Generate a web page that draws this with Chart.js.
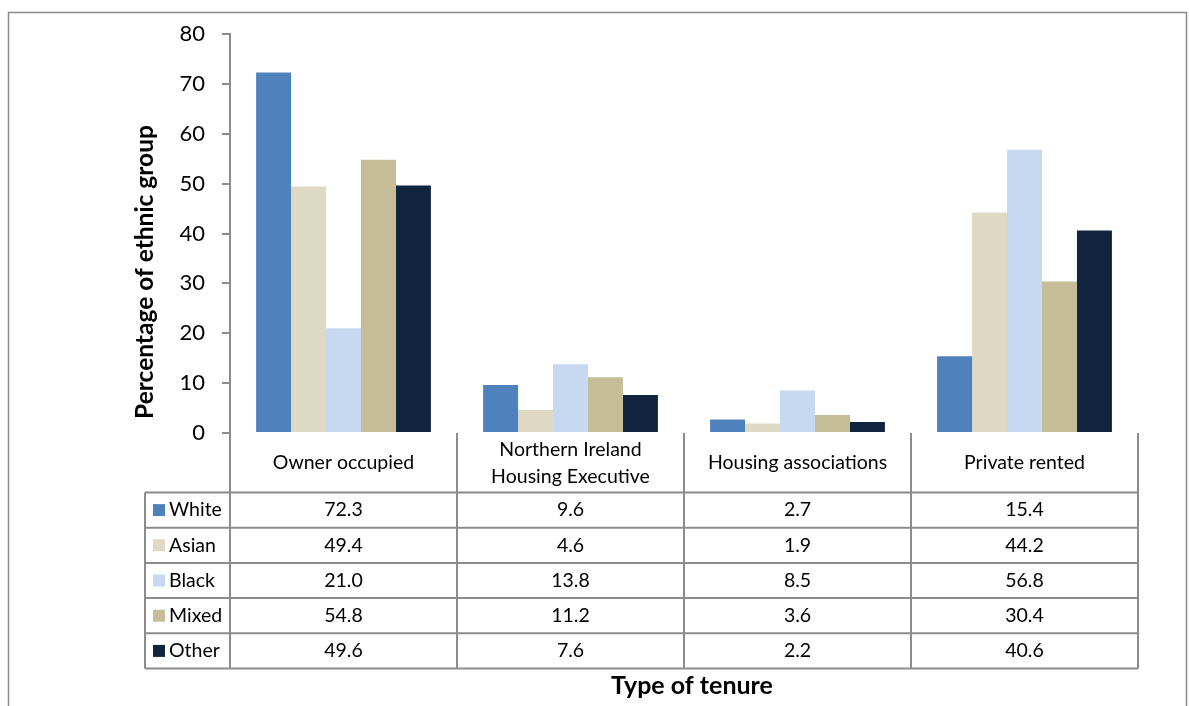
<!DOCTYPE html>
<html>
<head>
<meta charset="utf-8">
<script src="https://cdn.jsdelivr.net/npm/chart.js@4"></script>
<style>
  html, body { margin: 0; padding: 0; background: #fff; }
  #wrap { width: 1189px; height: 706px; }
</style>
</head>
<body>
<div id="wrap"><canvas id="tenureChart" width="1189" height="706"></canvas></div>
<script>
'use strict';

// --- DATA ---
const categories = [['Owner occupied'], ['Northern Ireland', 'Housing Executive'], ['Housing associations'], ['Private rented']];
const groups = ['White', 'Asian', 'Black', 'Mixed', 'Other'];
const white = [72.3, 9.6, 2.7, 15.4];
const asian = [49.4, 4.6, 1.9, 44.2];
const black = [21.0, 13.8, 8.5, 56.8];
const mixed = [54.8, 11.2, 3.6, 30.4];
const other = [49.6, 7.6, 2.2, 40.6];
const yTicks = [0, 10, 20, 30, 40, 50, 60, 70, 80];

const colours = ['#4f81bd', '#ddd9c3', '#c6d9f0', '#c4bd97', '#10243e'];
const seriesValues = [white, asian, black, mixed, other];

const gridColour = '#8c8c8c';
const fontFamily = 'Lato, "Open Sans", sans-serif';

Chart.defaults.font.family = fontFamily;
Chart.defaults.color = '#000';

// table under the plot, uses the x scale to line up the columns
const dataTablePlugin = {
    id: 'dataTable',
    beforeDraw(chart) {
        const ctx = chart.ctx;
        ctx.save();
        ctx.strokeStyle = '#8a8a8a';
        ctx.lineWidth = 1.5;
        ctx.strokeRect(8.5, 12.5, 1178, 720);
        ctx.restore();
    },
    afterDraw(chart) {
        const { ctx, chartArea, scales } = chart;
        const x = scales.x;
        const colW = chartArea.width / categories.length;
        const top = chartArea.bottom;
        const headerH = 59.5;
        const rowH = 35.2;
        const legendLeft = 145;
        const bottom = top + headerH + rowH * groups.length;

        ctx.save();
        ctx.strokeStyle = gridColour;
        ctx.lineWidth = 2;

        // vertical lines
        for (let i = 0; i <= categories.length; i++) {
            const px = chartArea.left + colW * i;
            ctx.beginPath();
            ctx.moveTo(px, top);
            ctx.lineTo(px, bottom);
            ctx.stroke();
        }
        ctx.beginPath();
        ctx.moveTo(legendLeft, top + headerH);
        ctx.lineTo(legendLeft, bottom);
        ctx.stroke();

        // horizontal lines
        for (let r = 0; r <= groups.length; r++) {
            const py = top + headerH + rowH * r;
            ctx.beginPath();
            ctx.moveTo(legendLeft, py);
            ctx.lineTo(chartArea.right, py);
            ctx.stroke();
        }

        ctx.fillStyle = '#000';
        ctx.textAlign = 'center';
        ctx.textBaseline = 'middle';
        ctx.font = '19.5px ' + fontFamily;

        // category headers
        categories.forEach((lines, i) => {
            const cx = x.getPixelForValue(i);
            const cy = top + headerH / 2;
            const lh = 27;
            lines.forEach((t, k) => {
                ctx.fillText(t, cx, cy + (k - (lines.length - 1) / 2) * lh);
            });
        });

        // rows
        groups.forEach((g, r) => {
            const cy = top + headerH + rowH * r + rowH / 2;
            ctx.fillStyle = colours[r];
            ctx.fillRect(153, cy - 6, 12, 12);
            ctx.fillStyle = '#000';
            ctx.textAlign = 'left';
            ctx.fillText(g, 169, cy);
            ctx.textAlign = 'center';
            seriesValues[r].forEach((v, i) => {
                ctx.fillText(v.toFixed(1), x.getPixelForValue(i), cy);
            });
        });

        // axis titles
        ctx.font = 'bold 25px ' + fontFamily;
        ctx.fillText('Type of tenure', 692, 686);

        ctx.translate(145, 272);
        ctx.rotate(-Math.PI / 2);
        ctx.font = 'bold 24.5px ' + fontFamily;
        ctx.fillText('Percentage of ethnic group', 0, 0);
        ctx.restore();
    }
};

const ctx = document.getElementById('tenureChart').getContext('2d');

new Chart(ctx, {
    type: 'bar',
    data: {
        labels: categories.map(c => c.join(' ')),
        datasets: groups.map((g, i) => ({
            label: g,
            data: seriesValues[i],
            backgroundColor: colours[i],
            borderWidth: 0,
            barPercentage: 1,
            categoryPercentage: 0.77
        }))
    },
    options: {
        responsive: false,
        animation: false,
        layout: { padding: { left: 0, top: 34, right: 51, bottom: 273 } },
        plugins: {
            legend: { display: false },
            tooltip: { enabled: false }
        },
        scales: {
            x: { display: false },
            y: {
                min: 0,
                max: 80,
                afterFit(scale) { scale.width = 230; },
                afterBuildTicks(scale) { scale.ticks = yTicks.map(v => ({ value: v })); },
                ticks: {
                    padding: 17,
                    font: { size: 22 },
                    color: '#000'
                },
                grid: {
                    drawOnChartArea: false,
                    drawTicks: true,
                    tickLength: 8,
                    color: gridColour,
                    lineWidth: 2
                },
                border: { display: true, color: gridColour, width: 2 },
                title: { display: false }
            }
        }
    },
    plugins: [dataTablePlugin]
});
</script>
</body>
</html>
